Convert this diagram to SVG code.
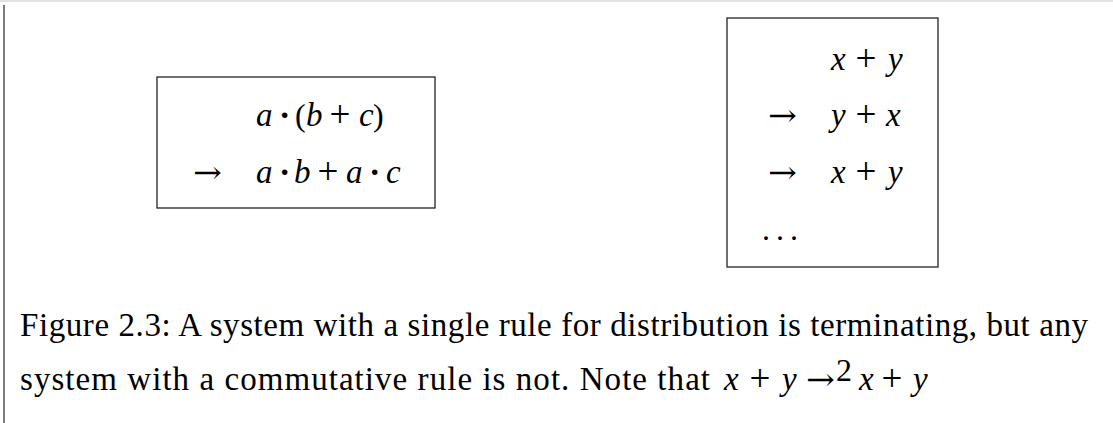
<svg xmlns="http://www.w3.org/2000/svg" width="1113" height="423" viewBox="0 0 1113 423">
<style>
text{font-family:"Liberation Serif","Times New Roman",serif;font-size:32px;fill:#000}
.i{font-style:italic;font-size:33px}
.m{text-anchor:middle}
.p{font-size:37px}
.d{font-size:34px;font-weight:bold}
.ar{font-family:"DejaVu Serif","Liberation Serif",serif;font-size:31px}
.cap{font-size:33px}
.box{fill:none;stroke:#222;stroke-width:1.3}
</style>
<rect x="0" y="0" width="1113" height="423" fill="#fff"/>
<line x1="0" y1="1" x2="1113" y2="1" stroke="#d8d8d8" stroke-width="1.5"/>
<line x1="4" y1="5" x2="4" y2="423" stroke="#333" stroke-width="1.3"/>
<g id="node-distribution">
<rect class="box" x="157" y="77" width="278" height="131"/>
<text class="i" x="256" y="126">a</text>
<text class="m d" x="284.6" y="126">·</text>
<text x="295" y="126">(</text>
<text class="i" x="306" y="126">b</text>
<text class="m p" x="340" y="127">+</text>
<text class="i" x="359" y="126">c</text>
<text x="373" y="126">)</text>
<text class="ar" x="193" y="183" textLength="29" lengthAdjust="spacingAndGlyphs">→</text>
<text class="i" x="256" y="183">a</text>
<text class="m d" x="284.6" y="183">·</text>
<text class="i" x="294" y="183">b</text>
<text class="m p" x="328" y="184">+</text>
<text class="i" x="346" y="183">a</text>
<text class="m d" x="374.6" y="183">·</text>
<text class="i" x="386" y="183">c</text>
</g>
<g id="node-commutative">
<rect class="box" x="727" y="18" width="211" height="249"/>
<text class="i" x="831" y="70">x</text>
<text class="m p" x="866" y="71">+</text>
<text class="i" x="888" y="70">y</text>
<text class="ar" x="768" y="126" textLength="29" lengthAdjust="spacingAndGlyphs">→</text>
<text class="i" x="831" y="126">y</text>
<text class="m p" x="866" y="127">+</text>
<text class="i" x="886" y="126">x</text>
<text class="ar" x="768" y="183" textLength="29" lengthAdjust="spacingAndGlyphs">→</text>
<text class="i" x="831" y="183">x</text>
<text class="m p" x="866" y="184">+</text>
<text class="i" x="888" y="183">y</text>
<text x="762 776 790" y="240">...</text>
</g>
<g id="connectors"></g>
<g id="caption">
<text class="cap" x="20" y="336" textLength="1068" lengthAdjust="spacing">Figure 2.3: A system with a single rule for distribution is terminating, but any</text>
<text class="cap" x="20" y="390" textLength="690" lengthAdjust="spacing">system with a commutative rule is not. Note that</text>
<text class="i" x="724" y="390">x</text>
<text class="m p" x="760" y="391">+</text>
<text class="i" x="782" y="390">y</text>
<text class="ar" x="806" y="390" textLength="29" lengthAdjust="spacingAndGlyphs">→</text>
<text x="836" y="381" font-size="22">2</text>
<text class="i" x="859" y="390">x</text>
<text class="m p" x="892" y="391">+</text>
<text class="i" x="913" y="390">y</text>
</g>
</svg>
